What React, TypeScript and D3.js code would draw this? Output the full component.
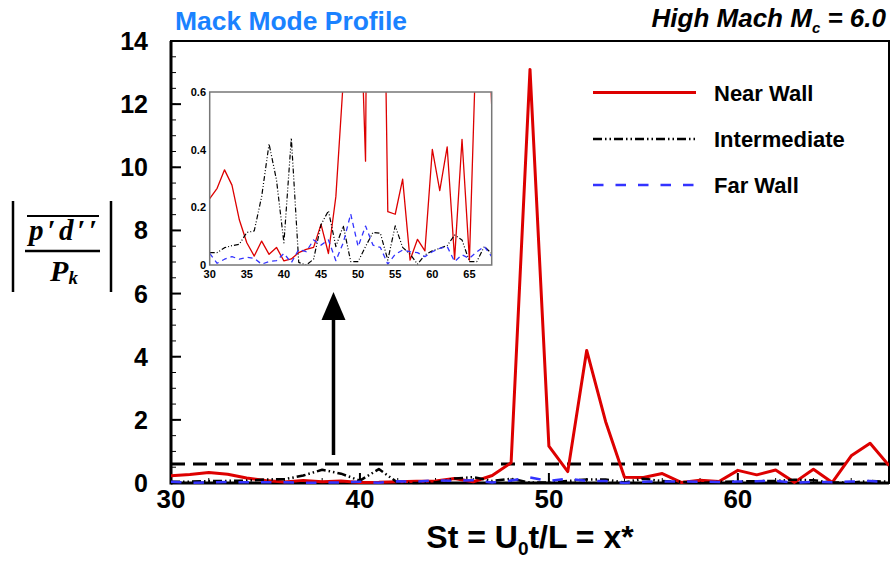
import * as d3 from "d3";

// Strouhal number stations
const st = d3.range(30, 69);

// |p'd''/P_k| at each station
const nearWall = [
  0.23, 0.266, 0.33, 0.277, 0.156, 0.077, 0.031, 0.083, 0.037, 0.061,
  0.014, 0.021, 0.043, 0.054, 0.061, 0.141, 0.04, 0.237, 0.64, 13.1,
  1.17, 0.36, 4.2, 1.95, 0.185, 0.176, 0.298, 0.017, 0.089, 0.049,
  0.401, 0.258, 0.41, 0.02, 0.436, 0.017, 0.86, 1.26, 0.55,
];
const intermediate = [
  0.043, 0.043, 0.06, 0.067, 0.072, 0.113, 0.118, 0.237, 0.42, 0.295,
  0.077, 0.44, 0.009, 0.0, 0.02, 0.14, 0.188, 0.064, 0.136, 0.012,
  0.012, 0.064, 0.113, 0.11, 0.017, 0.136, 0.061, 0.038, 0.003, 0.035,
  0.049, 0.058, 0.067, 0.104, 0.087, 0.012, 0.012, 0.064, 0.04,
];
const farWall = [
  0.04, 0.006, 0.02, 0.029, 0.02, 0.027, 0.023, 0.003, 0.012, 0.015,
  0.04, 0.008, 0.054, 0.046, 0.087, 0.069, 0.087, 0.015, 0.077, 0.177,
  0.064, 0.135, 0.069, 0.061, 0.003, 0.037, 0.052, 0.046, 0.043, 0.029,
  0.046, 0.058, 0.064, 0.012, 0.035, 0.023, 0.046, 0.064, 0.029,
];

const xTicks = [30, 40, 50, 60];
const xMinor = d3.range(30, 69, 2);
const yTicks = d3.range(0, 15, 2);
const yMinor = d3.range(0, 14.01, 0.5);
const insetXTicks = [30, 35, 40, 45, 50, 55, 60, 65];
const insetYTicks = [0, 0.2, 0.4, 0.6];
const insetRange = 0.6;

const series = [
  { name: "Near Wall", values: nearWall, color: "#dd0000", dash: "", w: 3, iw: 1.3 },
  { name: "Intermediate", values: intermediate, color: "#000", dash: "9,3,1.5,3,1.5,3", w: 2.5, iw: 1.2, idash: "5,2,1,2,1,2" },
  { name: "Far Wall", values: farWall, color: "#3333ff", dash: "10.5,12", w: 2.5, iw: 1.3, idash: "5,4" },
];

const font = "'Liberation Sans', Arial, sans-serif";
const serif = "'Liberation Serif', 'DejaVu Serif', serif";

export default function App() {
  const W = 891, H = 564;
  const m = { left: 171, right: 889, top: 41, bottom: 483 };
  const x = d3.scaleLinear().domain([30, 68]).range([m.left, m.right]);
  const y = d3.scaleLinear().domain([0, 14]).range([m.bottom, m.top]);

  const ins = { left: 209.7, right: 491.7, top: 92, bottom: 265 };
  const ix = d3.scaleLinear().domain([30, 68]).range([ins.left, ins.right]);
  const iy = d3.scaleLinear().domain([0, insetRange]).range([ins.bottom, ins.top]);

  const mainLine = d3.line<number>().x((d, i) => x(st[i])).y((d) => y(d));
  const insetLine = d3.line<number>().x((d, i) => ix(st[i])).y((d) => iy(d));

  const legendY = [92.5, 139, 185];
  const arrowX = x(38.6);

  return (
    <div style={{ position: "absolute", left: 0, top: 0 }}>
      <svg width={W} height={H} style={{ display: "block", background: "#fff" }}>
        <defs>
          <clipPath id="mainClip">
            <rect x={m.left} y={m.top} width={m.right - m.left} height={m.bottom - m.top + 1.5} />
          </clipPath>
          <clipPath id="insetClip">
            <rect x={ins.left} y={ins.top} width={ins.right - ins.left} height={ins.bottom - ins.top} />
          </clipPath>
        </defs>

        {/* titles */}
        <text x={175} y={30} fill="#1a82ff" fontFamily={font} fontWeight="bold" fontSize={26}
          textLength={232} lengthAdjust="spacingAndGlyphs">
          Mack Mode Profile
        </text>
        <text x={886} y={27} textAnchor="end" fontFamily={font} fontWeight="bold" fontStyle="italic" fontSize={26}>
          High Mach M<tspan fontSize={15} dy={6}>c</tspan><tspan dy={-6}> = 6.0</tspan>
        </text>

        {/* y ticks */}
        {yMinor.map((v) => (
          <line key={"ym" + v} x1={m.left} x2={m.left + 5} y1={y(v)} y2={y(v)} stroke="#000" strokeWidth={1} />
        ))}
        {yTicks.map((v) => (
          <g key={"y" + v}>
            <line x1={m.left} x2={m.left + 10} y1={y(v)} y2={y(v)} stroke="#000" strokeWidth={2} />
            <text x={148} y={y(v) + 9} textAnchor="end" fontFamily={font} fontWeight="bold" fontSize={25}>{v}</text>
          </g>
        ))}
        {/* x ticks */}
        {xMinor.map((v) => (
          <line key={"xm" + v} x1={x(v)} x2={x(v)} y1={m.bottom} y2={m.bottom - 5} stroke="#000" strokeWidth={1} />
        ))}
        {xTicks.map((v) => (
          <g key={"x" + v}>
            <line x1={x(v)} x2={x(v)} y1={m.bottom} y2={m.bottom - 10} stroke="#000" strokeWidth={2} />
            <text x={x(v)} y={508} textAnchor="middle" fontFamily={font} fontWeight="bold" fontSize={26}>{v}</text>
          </g>
        ))}

        {/* frame */}
        <rect x={m.left} y={m.top} width={m.right - m.left} height={m.bottom - m.top} fill="none" stroke="#000" strokeWidth={2} />
        <line x1={m.left} x2={m.left} y1={m.top} y2={m.bottom + 1.5} stroke="#000" strokeWidth={3} />
        <line x1={m.left} x2={m.right} y1={m.bottom} y2={m.bottom} stroke="#000" strokeWidth={3} />

        {/* 0.6 reference line */}
        <line x1={m.left} x2={m.right} y1={y(insetRange)} y2={y(insetRange)} stroke="#000" strokeWidth={3} strokeDasharray="14,8" />

        {/* main series, drawn over the frame */}
        <g clipPath="url(#mainClip)">
          {series.map((s) => (
            <path key={s.name} d={mainLine(s.values) ?? ""} fill="none" stroke={s.color} strokeWidth={s.w}
              strokeDasharray={s.dash} strokeLinejoin="round" />
          ))}
        </g>

        {/* axis titles */}
        <text x={(m.left + m.right) / 2} y={548} textAnchor="middle" fontFamily={font} fontWeight="bold" fontSize={32}>
          St = U<tspan fontSize={19} dy={7}>0</tspan><tspan dy={-7}>t/L = x*</tspan>
        </text>
        <g fontFamily={serif} fontWeight="bold" fontStyle="italic">
          <line x1={13} x2={13} y1={201} y2={292} stroke="#000" strokeWidth={2.5} />
          <line x1={111} x2={111} y1={201} y2={292} stroke="#000" strokeWidth={2.5} />
          <line x1={27} x2={99} y1={216} y2={216} stroke="#000" strokeWidth={2} />
          <text x={63} y={240} textAnchor="middle" fontSize={29} textLength={68} lengthAdjust="spacing">p′d′′</text>
          <line x1={25} x2={100} y1={251} y2={251} stroke="#000" strokeWidth={2.5} />
          <text x={64} y={281} textAnchor="middle" fontSize={30}>
            P<tspan fontSize={19} dy={3}>k</tspan>
          </text>
        </g>

        {/* arrow */}
        <line x1={arrowX} x2={arrowX} y1={455} y2={315} stroke="#000" strokeWidth={3.5} />
        <path d={`M${arrowX},292 L${arrowX - 12},320 L${arrowX + 12},320 Z`} fill="#000" />

        {/* legend */}
        {series.map((s, i) => (
          <g key={"lg" + s.name}>
            <line x1={593} x2={696} y1={legendY[i]} y2={legendY[i]} stroke={s.color} strokeWidth={s.w}
              strokeDasharray={s.dash} />
            <text x={714} y={legendY[i] + 8} fontFamily={font} fontWeight="bold" fontSize={22}>{s.name}</text>
          </g>
        ))}

        {/* inset */}
        <rect x={ins.left} y={ins.top} width={ins.right - ins.left} height={ins.bottom - ins.top} fill="#fff" />
        <g clipPath="url(#insetClip)">
          {series.map((s) => (
            <path key={"i" + s.name} d={insetLine(s.values) ?? ""} fill="none" stroke={s.color} strokeWidth={s.iw}
              strokeDasharray={s.idash ?? ""} strokeLinejoin="round" />
          ))}
        </g>
        <rect x={ins.left} y={ins.top} width={ins.right - ins.left} height={ins.bottom - ins.top} fill="none" stroke="#777" strokeWidth={1.5} />
        {insetYTicks.map((v) => (
          <text key={"iy" + v} x={206} y={iy(v) + 4} textAnchor="end" fontFamily={font} fontWeight="bold" fontSize={11}>{v}</text>
        ))}
        {insetXTicks.map((v) => (
          <text key={"ix" + v} x={ix(v)} y={278} textAnchor="middle" fontFamily={font} fontWeight="bold" fontSize={11}>{v}</text>
        ))}
      </svg>
    </div>
  );
}
